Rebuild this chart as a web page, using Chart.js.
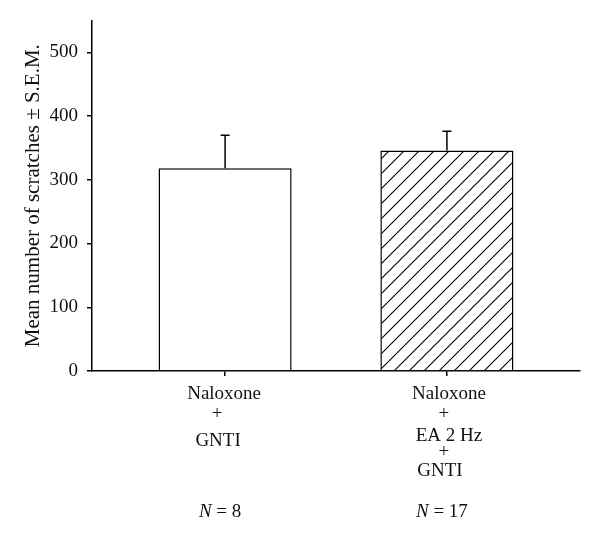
<!DOCTYPE html>
<html lang="en">
<head>
    <meta charset="UTF-8">
    <title>Mean number of scratches</title>
    <script src="https://cdn.jsdelivr.net/npm/chart.js"></script>
    <style>
        body { margin: 0; background: #fff; }
        #wrap { width: 600px; height: 545px; }
    </style>
</head>
<body>
    <div id="wrap">
        <canvas id="grafico" width="600" height="545"></canvas>
    </div>

<script>
    // Dados do gráfico
    const grupos = ['Naloxone + GNTI', 'Naloxone + EA 2 Hz + GNTI'];
    const linhasRotulo = [
        ['Naloxone', '+', 'GNTI'],
        ['Naloxone', '+', 'EA 2 Hz', '+', 'GNTI']
    ];
    const medias = [318, 346];
    const erroPadrao = [52, 30];
    const nAnimais = [8, 17];
    const yTicks = [0, 100, 200, 300, 400, 500];

    const fonte = "'Liberation Serif', 'DejaVu Serif', serif";

    // Padrão hachurado para a segunda barra
    function criarHachura() {
        const c = document.createElement('canvas');
        const s = 15;
        c.width = s;
        c.height = s;
        const g = c.getContext('2d');
        g.fillStyle = '#fff';
        g.fillRect(0, 0, s, s);
        g.strokeStyle = '#000';
        g.lineWidth = 1.1;
        g.beginPath();
        g.moveTo(0, s);
        g.lineTo(s, 0);
        g.moveTo(-2, 2);
        g.lineTo(2, -2);
        g.moveTo(s - 2, s + 2);
        g.lineTo(s + 2, s - 2);
        g.stroke();
        return g.createPattern(c, 'repeat');
    }

    // Barras de erro (só a parte de cima)
    const barrasErro = {
        id: 'barrasErro',
        afterDatasetsDraw(chart) {
            const ctx = chart.ctx;
            const meta = chart.getDatasetMeta(0);
            const y = chart.scales.y;
            ctx.save();
            ctx.strokeStyle = '#000';
            ctx.lineWidth = 1.5;
            meta.data.forEach((bar, i) => {
                const yTopo = y.getPixelForValue(medias[i] + erroPadrao[i]);
                const yBarra = y.getPixelForValue(medias[i]);
                ctx.beginPath();
                ctx.moveTo(bar.x, yBarra);
                ctx.lineTo(bar.x, yTopo);
                ctx.moveTo(bar.x - 4.5, yTopo);
                ctx.lineTo(bar.x + 4.5, yTopo);
                ctx.stroke();
            });
            ctx.restore();
        }
    };

    // Rótulos do eixo x em várias linhas + N
    const rotulosX = {
        id: 'rotulosX',
        afterDraw(chart) {
            const ctx = chart.ctx;
            const x = chart.scales.x;
            const base = chart.chartArea.bottom;
            const posY = [
                [23, 43, 70],
                [23, 43, 65, 81, 100]
            ];
            const desvioX = [
                [-1, -8, -7],
                [2, -3, 2, -3, -7]
            ];
            ctx.save();
            ctx.fillStyle = '#111';
            ctx.textAlign = 'center';
            ctx.textBaseline = 'middle';
            linhasRotulo.forEach((linhas, i) => {
                const cx = x.getPixelForValue(i);
                ctx.font = '19px ' + fonte;
                linhas.forEach((txt, j) => {
                    ctx.fillText(txt, cx + desvioX[i][j], base + posY[i][j]);
                });
                // N = ...
                const yN = base + 141;
                const resto = ' = ' + nAnimais[i];
                ctx.font = 'italic 19px ' + fonte;
                const wN = ctx.measureText('N').width;
                ctx.font = '19px ' + fonte;
                const wR = ctx.measureText(resto).width;
                const x0 = cx - 5 - (wN + wR) / 2;
                ctx.textAlign = 'left';
                ctx.font = 'italic 19px ' + fonte;
                ctx.fillText('N', x0, yN);
                ctx.font = '19px ' + fonte;
                ctx.fillText(resto, x0 + wN, yN);
                ctx.textAlign = 'center';
            });
            ctx.restore();
        }
    };

    const dados = {
        datasets: [{
            label: 'Mean',
            data: medias.map((v, i) => ({ x: i, y: v })),
            backgroundColor: ['#ffffff', criarHachura()],
            borderColor: '#000',
            borderWidth: 1.5,
            barPercentage: 0.6,
            categoryPercentage: 1
        }]
    };

    const config = {
        type: 'bar',
        data: dados,
        options: {
            responsive: false,
            animation: false,
            devicePixelRatio: 1,
            layout: { padding: { top: 20, right: 20, left: 0, bottom: 0 } },
            plugins: {
                legend: { display: false },
                tooltip: { enabled: false }
            },
            scales: {
                x: {
                    type: 'linear',
                    min: -0.6,
                    max: 1.6,
                    offset: false,
                    afterBuildTicks: (s) => { s.ticks = grupos.map((g, i) => ({ value: i })); },
                    afterFit: (s) => { s.height = 174; },
                    grid: {
                        offset: false,
                        drawOnChartArea: false,
                        drawTicks: true,
                        tickLength: 5,
                        color: '#000',
                        lineWidth: 1.5
                    },
                    border: { color: '#000', width: 1.5 },
                    ticks: { display: false }
                },
                y: {
                    min: 0,
                    max: 550,
                    afterBuildTicks: (s) => { s.ticks = yTicks.map(v => ({ value: v })); },
                    afterFit: (s) => { s.width = 92; },
                    grid: {
                        drawOnChartArea: false,
                        drawTicks: true,
                        tickLength: 5,
                        color: '#000',
                        lineWidth: 1.5
                    },
                    border: { color: '#000', width: 1.5 },
                    ticks: {
                        color: '#111',
                        padding: 9,
                        font: { family: fonte, size: 19 }
                    },
                    title: {
                        display: true,
                        text: 'Mean number of scratches ± S.E.M.',
                        color: '#111',
                        padding: { top: 21, bottom: 0 },
                        font: { family: fonte, size: 21 }
                    }
                }
            }
        },
        plugins: [barrasErro, rotulosX]
    };

    let meuGrafico = new Chart(document.getElementById('grafico'), config);
</script>
</body>
</html>
